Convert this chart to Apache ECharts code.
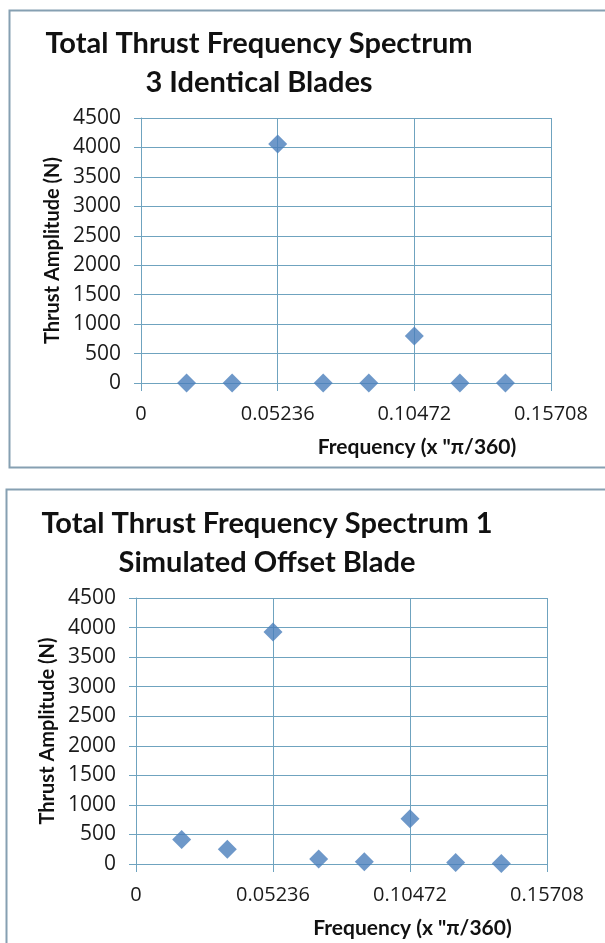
<!DOCTYPE html>
<html>
<head>
<meta charset="utf-8">
<script src="https://cdn.jsdelivr.net/npm/echarts@6/dist/echarts.min.js"></script>
<style>
  html, body { margin: 0; padding: 0; background: #ffffff; }
  #chart { width: 605px; height: 943px; }
</style>
</head>
<body>
<div id="chart"></div>
<script>
// ---- data ----
const frequencies = [0.01745, 0.03491, 0.05236, 0.06981, 0.08727, 0.10472, 0.12217, 0.13963];
const thrustIdentical = [0, 0, 4060, 0, 0, 800, 0, 0];
const thrustOffset = [415, 250, 3925, 85, 40, 765, 25, 8];
const titleTop = ['Total Thrust Frequency Spectrum', '3 Identical Blades'];
const titleBottom = ['Total Thrust Frequency Spectrum 1', 'Simulated Offset Blade'];
const xAxisTitle = 'Frequency (x "\u03C0/360)';
const yAxisTitle = 'Thrust Amplitude (N)';
const xMin = 0, xMax = 0.15708, xStep = 0.05236;
const yMin = 0, yMax = 4500, yStep = 500;

const gridColor = '#6FA3BF';
const markerColor = '#4A7EBB';
const labelFont = '"Open Sans"';
const boldFont = 'Lato';

function pairs(xs, ys) { return xs.map((x, i) => [x, ys[i]]); }

function makeX(gridIndex) {
  return {
    type: 'value', gridIndex: gridIndex,
    min: xMin, max: xMax, interval: xStep,
    name: xAxisTitle, nameLocation: 'middle', nameGap: 54,
    nameTextStyle: { fontFamily: boldFont, fontWeight: 'bold', fontSize: 21, color: '#111', padding: [0, 0, 0, 142] },
    axisLine: { show: true, onZero: false, lineStyle: { color: gridColor, width: 1 } },
    axisTick: { show: true, length: 8, lineStyle: { color: gridColor } },
    axisLabel: { margin: 21, fontFamily: labelFont, fontSize: 20, color: '#1a1a1a',
      formatter: v => String(+v.toFixed(5)) },
    splitLine: { show: true, lineStyle: { color: gridColor, width: 1 } }
  };
}
function makeY(gridIndex) {
  return {
    type: 'value', gridIndex: gridIndex,
    min: yMin, max: yMax, interval: yStep,
    name: yAxisTitle, nameLocation: 'middle', nameGap: 71,
    nameTextStyle: { fontFamily: boldFont, fontWeight: 'bold', fontSize: 20, color: '#111' },
    axisLine: { show: true, lineStyle: { color: gridColor, width: 1 } },
    axisTick: { show: true, length: 7, lineStyle: { color: gridColor } },
    axisLabel: { margin: 20, fontFamily: labelFont, fontSize: 21, color: '#1a1a1a',
      formatter: v => String(Math.round(v)) },
    splitLine: { show: true, lineStyle: { color: gridColor, width: 1 } }
  };
}

const chart = echarts.init(document.getElementById('chart'), null, { renderer: 'canvas' });
chart.setOption({
  backgroundColor: '#ffffff',
  animation: false,
  title: [
    { text: titleTop.join('\n'), left: 254, top: 19, textAlign: 'center',
      textStyle: { fontFamily: boldFont, fontWeight: 'bold', fontSize: 29, lineHeight: 39, color: '#111' } },
    { text: titleBottom.join('\n'), left: 262, top: 499, textAlign: 'center',
      textStyle: { fontFamily: boldFont, fontWeight: 'bold', fontSize: 29, lineHeight: 39, color: '#111' } }
  ],
  graphic: [
    { type: 'rect', silent: true, z: -1,
      shape: { x: 9.5, y: 10.5, width: 600, height: 457 },
      style: { fill: null, stroke: '#86A0B2', lineWidth: 2 } },
    { type: 'rect', silent: true, z: -1,
      shape: { x: 6.5, y: 489.5, width: 605, height: 470 },
      style: { fill: null, stroke: '#86A0B2', lineWidth: 2 } }
  ],
  grid: [
    { left: 141, top: 118, width: 410, height: 265 },
    { left: 136, top: 598, width: 411, height: 266 }
  ],
  xAxis: [makeX(0), makeX(1)],
  yAxis: [makeY(0), makeY(1)],
  series: [
    { type: 'scatter', xAxisIndex: 0, yAxisIndex: 0, symbol: 'diamond', symbolSize: 19,
      itemStyle: { color: markerColor }, data: pairs(frequencies, thrustIdentical) },
    { type: 'scatter', xAxisIndex: 1, yAxisIndex: 1, symbol: 'diamond', symbolSize: 19,
      itemStyle: { color: markerColor }, data: pairs(frequencies, thrustOffset) }
  ]
});
</script>
</body>
</html>
